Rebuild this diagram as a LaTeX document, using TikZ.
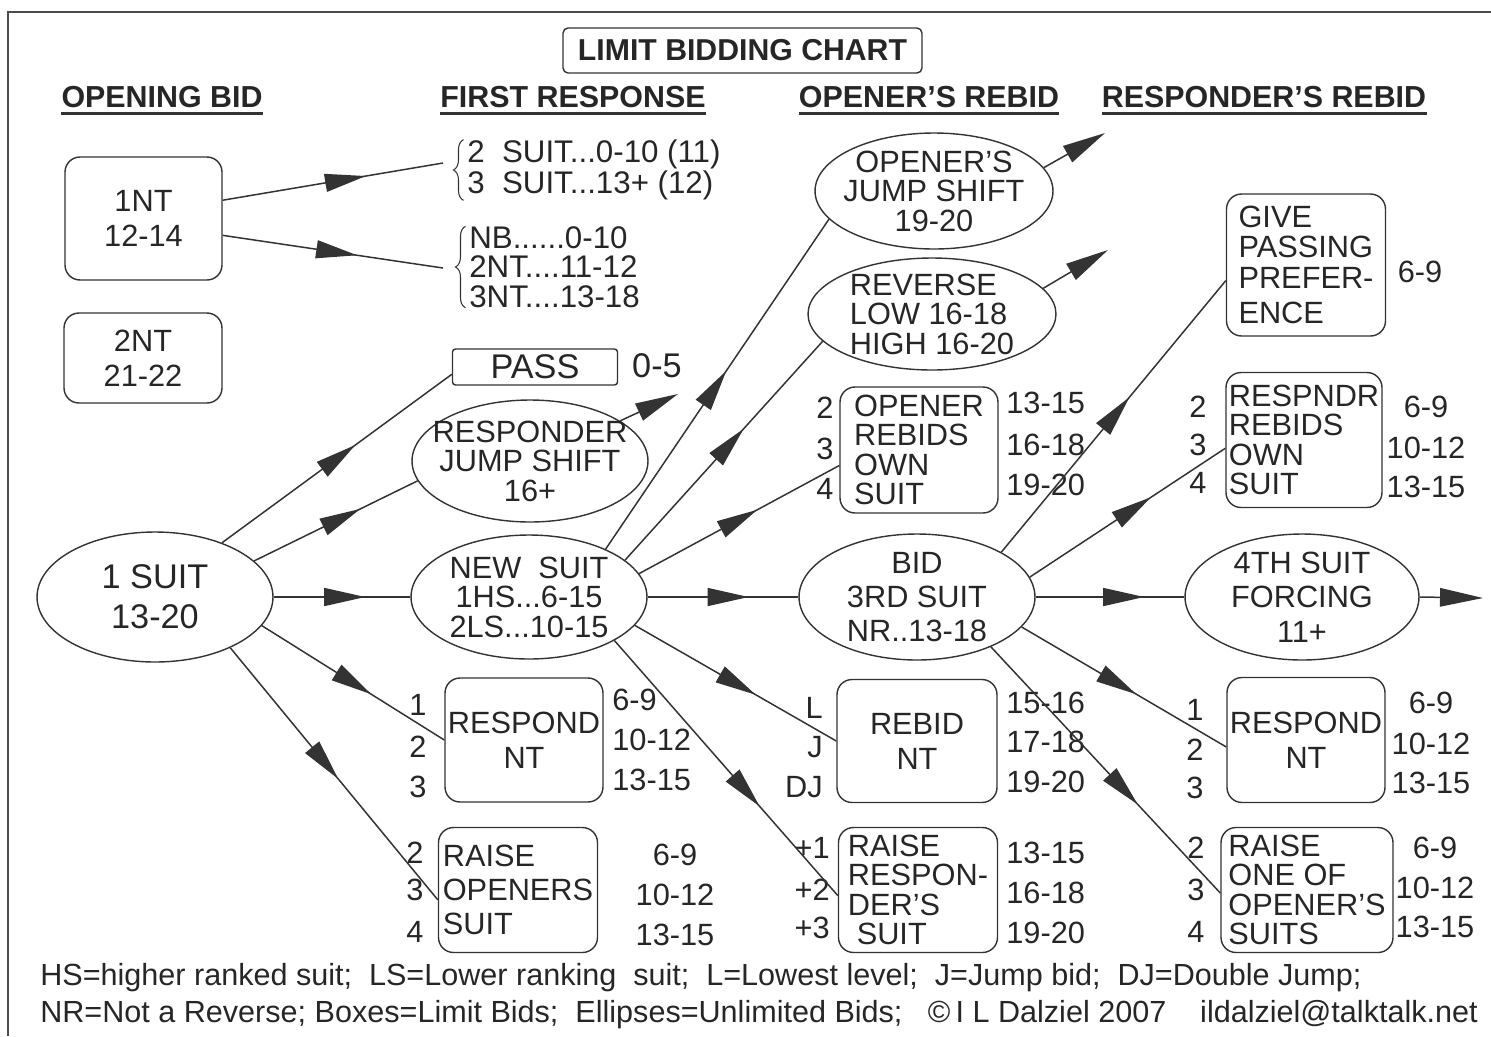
\documentclass[tikz,border=0pt]{standalone}
\usepackage{fontspec}
\setmainfont{Liberation Sans}
\usetikzlibrary{shapes.geometric,arrows.meta,decorations.markings,decorations.pathreplacing}
\begin{document}
\begin{tikzpicture}[x=0.02cm,y=-0.02cm,
  f/.style={font=\fontsize{17.5}{16.8}\selectfont},
  fw/.style={font=\fontsize{17.5}{20}\selectfont},
  fbig/.style={font=\fontsize{19.5}{22.7}\selectfont},
  hdr/.style={font=\bfseries\fontsize{17.3}{18}\selectfont, inner sep=0pt, text=black!85},
  ell/.style={ellipse, draw=black!80, line width=0.8pt, inner sep=-3cm, align=center, f, text=black!85},
  box/.style={rectangle, rounded corners=0.3cm, draw=black!80, line width=0.8pt, inner sep=-1cm, f, text=black!85},
  lab/.style={inner sep=0pt, f, text=black!85},
  conn/.style={draw=black!80, line width=0.85pt},
  midarr/.style={conn, postaction={decorate}, decoration={markings, mark=at position #1 with {\arrow{Triangle[length=0.82cm,width=0.36cm]}}}},
  endarr/.style={conn, -{Triangle[length=0.86cm,width=0.37cm]}},
  uline/.style={draw=black!80, line width=1.6pt},
  brc/.style={draw=black!80, line width=0.6pt, decorate, decoration={brace, amplitude=0.2cm}},
]
\useasboundingbox (0,0) rectangle (1491,1036);
\draw[draw=black!70, line width=1.2pt] (8,1036) -- (8,12) -- (1491,12);

% title and headers
\node[box, rounded corners=0.1cm, minimum width=7.18cm, minimum height=0.9cm, font=\bfseries\fontsize{17.2}{18}\selectfont] (title) at (742.5,50.5) {LIMIT BIDDING CHART};
\node[hdr] (h1) at (162,97) {OPENING BID};
\node[hdr] (h2) at (573,97) {FIRST RESPONSE};
\node[hdr] (h3) at (929,97) {OPENER'S REBID};
\node[hdr] (h4) at (1264,97) {RESPONDER'S REBID};
\foreach \h in {h1,h2,h3,h4}{
  \draw[uline] ([yshift=-3pt]\h.south west) -- ([yshift=-3pt]\h.south east);
}

% opening bids
\node[box, align=center, fw, minimum width=3.14cm, minimum height=2.46cm] (nt1) at (143.5,218.5) {1NT\\12-14};
\node[box, align=center, fw, minimum width=3.16cm, minimum height=1.8cm] (nt2) at (143,358) {2NT\\21-22};
\node[ell, fbig, minimum width=4.72cm, minimum height=2.6cm] (s1) at (155,597) {1 SUIT\\13-20};

% 1NT responses
\node[lab, anchor=west, align=left, font=\fontsize{17.8}{16.5}\selectfont] (br1) at (467,170) {2\ \ SUIT...0-10 (11)\\3\ \ SUIT...13+ (12)};
\node[lab, anchor=west, align=left, font=\fontsize{17.8}{16.7}\selectfont] (br2) at (469,267) {NB......0-10\\2NT....11-12\\3NT....13-18};
\draw[brc] ([xshift=-2pt]br1.south west) -- ([xshift=-2pt]br1.north west);
\draw[brc] ([xshift=-2pt]br2.south west) -- ([xshift=-2pt]br2.north west);

% first responses
\node[box, rounded corners=0.06cm, minimum width=3.3cm, minimum height=0.72cm, fbig] (pass) at (535,367) {PASS};
\node[lab, fbig] (l05) at (657,366) {0-5};
\node[ell, minimum width=4.72cm, minimum height=2.44cm] (rjs) at (530,461) {RESPONDER\\JUMP SHIFT\\16+};
\node[ell, minimum width=4.72cm, minimum height=2.48cm] (ns) at (529,597) {NEW\ \ SUIT\\1HS...6-15\\2LS...10-15};
\node[box, align=center, fw, minimum width=3.16cm, minimum height=2.48cm] (rn1) at (524,740) {RESPOND\\NT};
\node[box, align=left, font=\fontsize{17.5}{19.3}\selectfont, minimum width=3.18cm, minimum height=2.5cm] (ros) at (518,890) {RAISE\\OPENERS\\SUIT};

% opener's rebids
\node[ell, minimum width=4.76cm, minimum height=2.32cm] (ojs) at (934,191) {OPENER'S\\JUMP SHIFT\\19-20};
\node[ell, align=left, minimum width=4.96cm, minimum height=2.24cm] (rev) at (932,314) {REVERSE\\LOW 16-18\\HIGH 16-20};
\node[box, align=left, minimum width=3.16cm, minimum height=2.52cm] (ob) at (919,450) {OPENER\\REBIDS\\OWN\\SUIT};
\node[ell, font=\fontsize{17.5}{19.5}\selectfont, minimum width=4.72cm, minimum height=2.52cm] (b3) at (917,597) {BID\\3RD SUIT\\NR..13-18};
\node[box, align=center, fw, minimum width=3.2cm, minimum height=2.46cm] (rn2) at (917,741) {REBID\\NT};
\node[box, align=left, minimum width=3.18cm, minimum height=2.5cm] (rrs) at (918,890) {RAISE\\RESPON-\\DER'S\\\hspace*{5pt}SUIT};

% responder's rebids
\node[box, align=left, font=\fontsize{17.5}{17.2}\selectfont, minimum width=3.18cm, minimum height=2.84cm] (gp) at (1306,265) {GIVE\\PASSING\\PREFER-\\[3pt]ENCE};
\node[box, align=left, minimum width=3.12cm, minimum height=2.7cm] (rr) at (1304,440) {RESPNDR\\REBIDS\\OWN\\SUIT};
\node[ell, font=\fontsize{17.5}{19.5}\selectfont, minimum width=4.68cm, minimum height=2.52cm] (f4) at (1302,597) {4TH SUIT\\FORCING\\11+};
\node[box, align=center, fw, minimum width=3.16cm, minimum height=2.5cm] (rn3) at (1306,740) {RESPOND\\NT};
\node[box, align=left, minimum width=3.44cm, minimum height=2.5cm] (roo) at (1307,890) {RAISE\\ONE OF\\OPENER'S\\SUITS};

% side labels
\node[lab] (ob2) at (825,408) {2};
\node[lab] (ob3) at (825,449) {3};
\node[lab] (ob4) at (825,489) {4};
\node[lab, anchor=west] (obr1) at (1006,403) {13-15};
\node[lab, anchor=west] (obr2) at (1006,445) {16-18};
\node[lab, anchor=west] (obr3) at (1006,485) {19-20};

\node[lab] (rn1a) at (418,705) {1};
\node[lab] (rn1b) at (418,747) {2};
\node[lab] (rn1c) at (418,787) {3};
\node[lab, anchor=west] (rn1r1) at (612,700) {6-9};
\node[lab, anchor=west] (rn1r2) at (612,740) {10-12};
\node[lab, anchor=west] (rn1r3) at (612,780) {13-15};

\node[lab] (rosa) at (415,853) {2};
\node[lab] (rosb) at (415,890) {3};
\node[lab] (rosc) at (415,932) {4};
\node[lab] (rosr1) at (675,855) {6-9};
\node[lab] (rosr2) at (675,895) {10-12};
\node[lab] (rosr3) at (675,935) {13-15};

\node[lab, anchor=east] (rn2a) at (823,708) {L};
\node[lab, anchor=east] (rn2b) at (823,747) {J};
\node[lab, anchor=east] (rn2c) at (823,787) {DJ};
\node[lab, anchor=west] (rn2r1) at (1006,703) {15-16};
\node[lab, anchor=west] (rn2r2) at (1006,742) {17-18};
\node[lab, anchor=west] (rn2r3) at (1006,782) {19-20};

\node[lab, anchor=east] (rrsa) at (830,848) {+1};
\node[lab, anchor=east] (rrsb) at (830,890) {+2};
\node[lab, anchor=east] (rrsc) at (830,928) {+3};
\node[lab, anchor=west] (rrsr1) at (1006,853) {13-15};
\node[lab, anchor=west] (rrsr2) at (1006,893) {16-18};
\node[lab, anchor=west] (rrsr3) at (1006,933) {19-20};

\node[lab] (gpr) at (1420,272) {6-9};

\node[lab] (rra) at (1198,407) {2};
\node[lab] (rrb) at (1198,445) {3};
\node[lab] (rrc) at (1198,483) {4};
\node[lab] (rrr1) at (1426,407) {6-9};
\node[lab] (rrr2) at (1426,448) {10-12};
\node[lab] (rrr3) at (1426,487) {13-15};

\node[lab] (rn3a) at (1195,710) {1};
\node[lab] (rn3b) at (1195,750) {2};
\node[lab] (rn3c) at (1195,788) {3};
\node[lab] (rn3r1) at (1431,703) {6-9};
\node[lab] (rn3r2) at (1431,744) {10-12};
\node[lab] (rn3r3) at (1431,783) {13-15};

\node[lab] (rooa) at (1196,848) {2};
\node[lab] (roob) at (1196,890) {3};
\node[lab] (rooc) at (1196,932) {4};
\node[lab] (roor1) at (1435,848) {6-9};
\node[lab] (roor2) at (1435,888) {10-12};
\node[lab] (roor3) at (1435,927) {13-15};

% free ends
\coordinate (e1) at (678,394);
\coordinate (e2) at (1105,133);
\coordinate (e3) at (1108,250);
\coordinate (e4) at (1483,598);

% connectors
\draw[midarr=0.65] (nt1.13) -- ([shift={(-24,-7)}]br1.west);
\draw[midarr=0.61] (nt1.-12) -- ([shift={(-26,1)}]br2.west);

\draw[midarr=0.58] (s1.39) -- (pass.185);
\draw[midarr=0.65] (s1.20) -- (rjs.190);
\draw[midarr=0.67] (s1.east) -- (ns.west);
\draw[midarr=0.6] (s1.-15) -- (rn1.west);
\draw[midarr=0.52] (s1.-34) -- (ros.187);
\draw[endarr] (rjs.24) -- (e1);

\draw[midarr=0.54] (ns.32) -- (ojs.195);
\draw[midarr=0.6] (ns.21) -- (rev.194);
\draw[midarr=0.59] (ns.12) -- (ob.191);
\draw[midarr=0.67] (ns.east) -- (b3.west);
\draw[midarr=0.6] (ns.-15) -- (rn2.west);
\draw[midarr=0.65] (ns.-27) -- (rrs.184);
\draw[endarr] (ojs.12) -- (e2);
\draw[endarr] (rev.13) -- (e3);

\draw[midarr=0.57] (b3.28) -- (gp.191);
\draw[midarr=0.62] (b3.10) -- (rr.186);
\draw[midarr=0.73] (b3.east) -- (f4.west);
\draw[midarr=0.56] (b3.-16) -- (rn3.185);
\draw[midarr=0.64] (b3.-34) -- (roo.182);
\draw[endarr] (f4.east) -- (e4);

% footer
\node[lab, anchor=west, font=\fontsize{17.4}{18}\selectfont] (ft1) at (40,978) {HS=higher ranked suit;\ \ LS=Lower ranking\ \ suit;\ \ L=Lowest level;\ \ J=Jump bid;\ \ DJ=Double Jump;};
\node[lab, anchor=west, font=\fontsize{17.4}{18}\selectfont] (ft2) at (40,1015) {NR=Not a Reverse; Boxes=Limit Bids;\ \ Ellipses=Unlimited Bids;\ \ \ ©\,I L Dalziel 2007\ \ \ \ ildalziel@talktalk.net};
\end{tikzpicture}
\end{document}
